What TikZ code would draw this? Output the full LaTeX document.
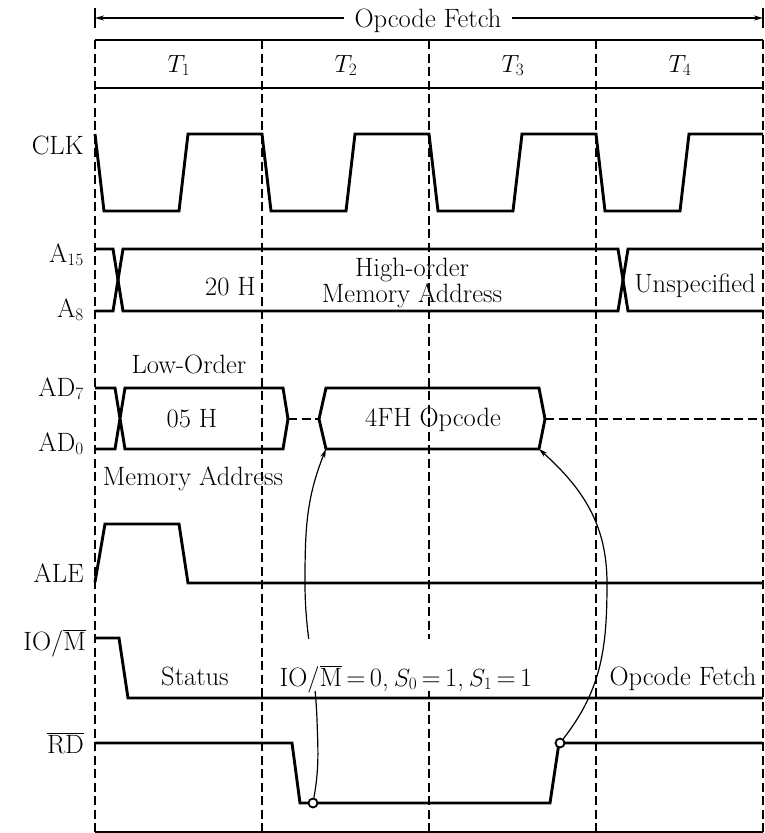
\documentclass[tikz,border=0pt]{standalone}
\usetikzlibrary{arrows.meta}
\begin{document}
\begin{tikzpicture}[x=1pt,y=1pt,
  wave/.style={line width=2.9pt, line join=miter},
  gridl/.style={line width=1.6pt, dash pattern=on 9pt off 4.5pt},
  thinl/.style={line width=1.3pt},
  lbl/.style={font=\fontsize{26.5}{30}\selectfont, inner sep=0pt},
  conn/.style={line width=1.2pt, -{Stealth[length=9pt,width=5pt]}},
  dot/.style={circle, draw, fill=white, line width=1.8pt, inner sep=0pt, minimum size=9pt}]
\useasboundingbox (0,0) rectangle (764,-833);

% grid lines
\foreach \x in {95,262,429,596,763} \draw[gridl] (\x,-40) -- (\x,-833);

% header
\draw[thinl] (95,-40) -- (763,-40);
\draw[thinl] (95,-88) -- (763,-88);
\draw[thinl] (95,-832) -- (763,-832);
\draw[thinl] (95,-8) -- (95,-28);
\draw[thinl] (763,-8) -- (763,-28);
\coordinate (tl) at (95,-18);
\coordinate (tr) at (763,-18);
\draw[thinl, {Stealth[length=9pt,width=5pt]}-{Stealth[length=9pt,width=5pt]}] (tl) -- (tr);
\node[lbl, fill=white, inner xsep=11pt, inner ysep=2pt, anchor=base] (title) at (428,-27) {Opcode Fetch};

\node[lbl, anchor=base] (t1) at (179,-72) {$T_1$};
\node[lbl, anchor=base] (t2) at (346,-72) {$T_2$};
\node[lbl, anchor=base] (t3) at (513,-72) {$T_3$};
\node[lbl, anchor=base] (t4) at (680,-72) {$T_4$};

% left labels
\node[lbl, anchor=base east] (lclk) at (84,-154) {CLK};
\node[lbl, anchor=base east] (la15) at (84,-262) {A$_{15}$};
\node[lbl, anchor=base east] (la8) at (84,-317) {A$_{8}$};
\node[lbl, anchor=base east] (lad7) at (84,-396) {AD$_{7}$};
\node[lbl, anchor=base east] (lad0) at (84,-451) {AD$_{0}$};
\node[lbl, anchor=base east] (lale) at (84,-582) {ALE};
\node[lbl, anchor=base east] (liom) at (86,-650) {IO/$\overline{\mbox{M}}$};
\node[lbl, anchor=base east] (lrd) at (84,-753) {$\overline{\mbox{RD}}$};

% CLK
\draw[wave] (95,-134) -- (104,-211) -- (179,-211) -- (188,-134) -- (262,-134)
  -- (271,-211) -- (346,-211) -- (355,-134) -- (429,-134)
  -- (438,-211) -- (513,-211) -- (522,-134) -- (596,-134)
  -- (605,-211) -- (680,-211) -- (689,-134) -- (763,-134);

% A15-A8
\draw[wave] (95,-249) -- (113,-249) -- (123,-311) -- (618,-311) -- (628,-249) -- (763,-249);
\draw[wave] (95,-311) -- (113,-311) -- (123,-249) -- (618,-249) -- (628,-311) -- (763,-311);
\node[lbl, anchor=base east] (h20) at (256,-295) {20 H};
\node[lbl, align=center, font=\fontsize{26.5}{23}\selectfont, anchor=center] (hho) at (412,-283)
  {High-order\\Memory Address};
\node[lbl, anchor=base] (hun) at (695,-292) {Unspecified};

% AD7-AD0
\draw[wave] (95,-388) -- (115,-388) -- (125,-449) -- (283,-449) -- (288,-419)
  -- (283,-388) -- (125,-388) -- (115,-449) -- (95,-449);
\draw[wave] (326,-388) -- (539,-388) -- (545,-419) -- (539,-449) -- (326,-449) -- (319,-419) -- cycle;
\draw[gridl] (288,-419) -- (319,-419);
\draw[gridl] (545,-419) -- (763,-419);
\coordinate (adbl) at (326,-449);
\coordinate (adbr) at (539,-449);
\node[lbl, anchor=base] (llo) at (189,-373) {Low-Order};
\node[lbl, anchor=base] (l05) at (192,-427) {05 H};
\node[lbl, anchor=base] (lma) at (193,-485) {Memory Address};
\node[lbl, anchor=base] (l4f) at (433,-426) {4FH Opcode};

% ALE
\draw[wave] (95,-582) -- (105,-524) -- (179,-524) -- (188,-583) -- (763,-583);
% IO/M
\draw[wave] (95,-638) -- (119,-638) -- (128,-698) -- (763,-698);
% RD
\draw[wave] (95,-743) -- (292,-743) -- (300,-803) -- (550,-803) -- (559,-743) -- (763,-743);

\node[dot] (r1) at (313,-803) {};
\node[dot] (r2) at (560,-743) {};
\coordinate (m0) at (317,-720);
\coordinate (m1) at (305,-583);
\coordinate (m2) at (607,-583);

\draw[conn] (r1) to[out=80,in=-88] (m0) to[out=92,in=-90] (m1) to[out=90,in=-112] (adbl);
\draw[conn] (r2) to[out=52,in=-90] (m2) to[out=90,in=-42] (adbr);

\node[lbl, anchor=base] (sst) at (195,-685) {Status};
\node[lbl, anchor=base, fill=white, inner xsep=3pt, inner ysep=3pt, text height=44pt, text depth=2pt] (eq) at (406,-686)
  {IO/$\overline{\mbox{M}}$\,=\,0,\hspace{5pt}$S_0$\,=\,1,\hspace{5pt}$S_1$\,=\,1};
\node[lbl, anchor=base] (sof) at (683,-685) {Opcode Fetch};
\end{tikzpicture}
\end{document}
